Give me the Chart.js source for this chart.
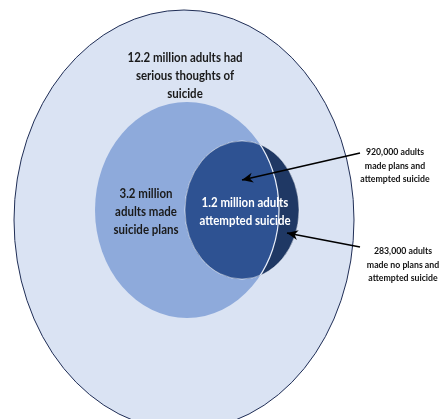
<!DOCTYPE html>
<html>
<head>
<meta charset="utf-8">
<script src="https://cdn.jsdelivr.net/npm/chart.js@4"></script>
<style>
  html, body { margin: 0; padding: 0; background: #fff; }
  #wrap { width: 440px; height: 419px; }
</style>
</head>
<body>
<div id="wrap"><canvas id="venn"></canvas></div>
<script>
// groups, outermost first
const groups = ["Serious thoughts of suicide", "Made suicide plans", "Attempted suicide"];
const millions = [12.2, 3.2, 1.2];
const groupLabels = [
  ["12.2 million adults had", "serious thoughts of", "suicide"],
  ["3.2 million", "adults made", "suicide plans"],
  ["1.2 million adults", "attempted suicide"]
];
const calloutLabels = [
  ["920,000 adults", "made plans and", "attempted suicide"],
  ["283,000 adults", "made no plans and", "attempted suicide"]
];

// layout of the diagram in chart units (x 0..440, y 0..419)
const ellCx = [184, 187, 242];
const ellCy = [220, 210, 210];
const ellRx = [170, 92, 57];
const ellRy = [210, 108, 69];
const labelX = [185, 146, 245];
const labelY = [58, 194, 203];
const calloutX = [395, 403];
const calloutY = [152, 251];
const arrowFrom = [{ x: 360, y: 153 }, { x: 360, y: 247 }];
const arrowTo = [{ x: 242, y: 180 }, { x: 287, y: 233 }];

const fills = ["#dae3f3", "#8eaadb", "#2e5292"];
const darkOuter = "#1f3864";

function ellPath(ctx, xs, ys, i) {
  const px = xs.getPixelForValue(ellCx[i]);
  const py = ys.getPixelForValue(ellCy[i]);
  const rx = Math.abs(xs.getPixelForValue(ellCx[i] + ellRx[i]) - px);
  const ry = Math.abs(ys.getPixelForValue(ellCy[i] + ellRy[i]) - py);
  ctx.beginPath();
  ctx.ellipse(px, py, rx, ry, 0, 0, Math.PI * 2);
}

// narrow text, a bit like Calibri
function narrowText(ctx, t, x, y, squeeze) {
  ctx.save();
  ctx.translate(x, y);
  ctx.scale(squeeze, 1);
  ctx.fillText(t, 0, 0);
  ctx.restore();
}

const vennPlugin = {
  id: "venn",
  beforeDatasetsDraw(chart) {
    const { ctx, scales } = chart;
    const xs = scales.x, ys = scales.y;
    ctx.save();
    // outer
    ellPath(ctx, xs, ys, 0);
    ctx.fillStyle = fills[0];
    ctx.fill();
    ctx.strokeStyle = "#1f2d55";
    ctx.lineWidth = 1;
    ctx.stroke();
    // middle
    ellPath(ctx, xs, ys, 1);
    ctx.fillStyle = fills[1];
    ctx.fill();
    // inner, dark where it leaves the middle set
    ellPath(ctx, xs, ys, 2);
    ctx.fillStyle = darkOuter;
    ctx.fill();
    ctx.strokeStyle = "rgba(255,255,255,0.45)";
    ctx.stroke();
    ctx.save();
    ellPath(ctx, xs, ys, 1);
    ctx.clip();
    ellPath(ctx, xs, ys, 2);
    ctx.fillStyle = fills[2];
    ctx.fill();
    ctx.strokeStyle = "rgba(255,255,255,0.45)";
    ctx.stroke();
    ctx.restore();
    // white edge of middle set inside inner set
    ctx.save();
    ellPath(ctx, xs, ys, 2);
    ctx.clip();
    ellPath(ctx, xs, ys, 1);
    ctx.strokeStyle = "#e8eefa";
    ctx.lineWidth = 1.2;
    ctx.stroke();
    ctx.restore();
    ctx.restore();
  },
  afterDatasetsDraw(chart) {
    const { ctx, scales } = chart;
    const xs = scales.x, ys = scales.y;
    ctx.save();
    // arrow heads
    arrowTo.forEach((p, i) => {
      const x1 = xs.getPixelForValue(arrowFrom[i].x), y1 = ys.getPixelForValue(arrowFrom[i].y);
      const x2 = xs.getPixelForValue(p.x), y2 = ys.getPixelForValue(p.y);
      const a = Math.atan2(y2 - y1, x2 - x1);
      const len = 11, w = 5;
      ctx.beginPath();
      ctx.moveTo(x2, y2);
      ctx.lineTo(x2 - len * Math.cos(a) + w * Math.sin(a), y2 - len * Math.sin(a) - w * Math.cos(a));
      ctx.lineTo(x2 - len * 0.7 * Math.cos(a), y2 - len * 0.7 * Math.sin(a));
      ctx.lineTo(x2 - len * Math.cos(a) - w * Math.sin(a), y2 - len * Math.sin(a) + w * Math.cos(a));
      ctx.closePath();
      ctx.fillStyle = "#000";
      ctx.fill();
    });
    ctx.textAlign = "center";
    ctx.textBaseline = "middle";
    // group labels
    groupLabels.forEach((lines, i) => {
      ctx.font = "bold 13.5px Lato, 'Open Sans', sans-serif";
      ctx.fillStyle = i === 2 ? "#ffffff" : "#1a1a1a";
      lines.forEach((t, j) => {
        narrowText(ctx, t, xs.getPixelForValue(labelX[i]), ys.getPixelForValue(labelY[i] + j * 18), 0.85);
      });
    });
    // callouts
    calloutLabels.forEach((lines, i) => {
      ctx.font = "bold 9.5px Lato, 'Open Sans', sans-serif";
      ctx.fillStyle = "#111";
      lines.forEach((t, j) => {
        narrowText(ctx, t, xs.getPixelForValue(calloutX[i]), ys.getPixelForValue(calloutY[i] + j * 13.5), 0.92);
      });
    });
    ctx.restore();
  }
};

new Chart(document.getElementById("venn"), {
  type: "scatter",
  data: {
    datasets: arrowTo.map((p, i) => ({
      label: "arrow " + (i + 1),
      data: [arrowFrom[i], p],
      showLine: true,
      borderColor: "#000",
      borderWidth: 1.7,
      pointRadius: 0,
      pointHoverRadius: 0
    }))
  },
  options: {
    responsive: true,
    maintainAspectRatio: false,
    animation: false,
    layout: { padding: 0 },
    plugins: {
      legend: { display: false },
      tooltip: { enabled: false },
      title: { display: false }
    },
    scales: {
      x: { type: "linear", min: 0, max: 440, display: false },
      y: { type: "linear", min: 0, max: 419, reverse: true, display: false }
    }
  },
  plugins: [vennPlugin]
});
</script>
</body>
</html>
